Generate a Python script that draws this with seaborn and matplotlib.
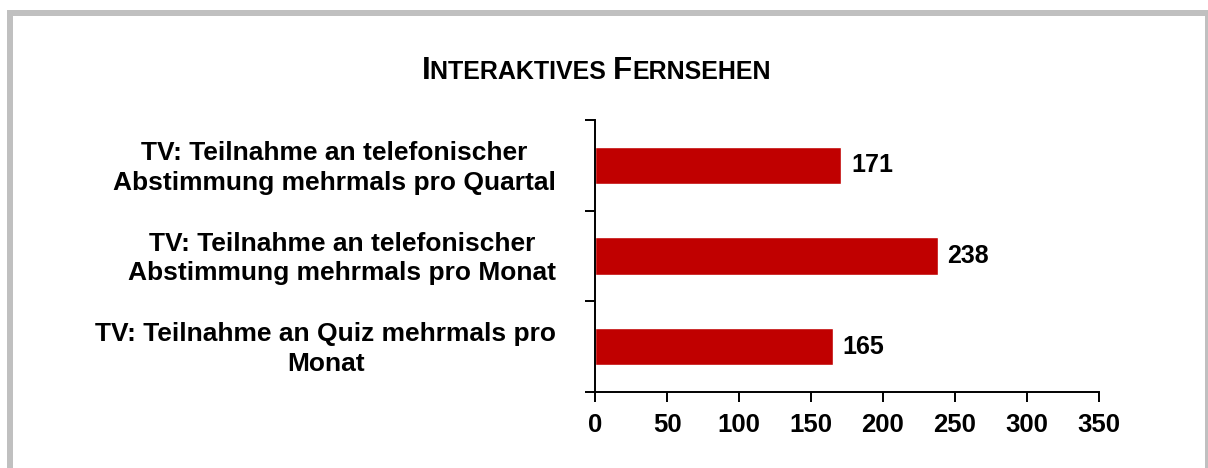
import matplotlib
matplotlib.use("Agg")
import matplotlib.pyplot as plt
from matplotlib.patches import Rectangle
from matplotlib.transforms import ScaledTranslation
import seaborn as sns

# chart data
categories = [
    "TV: Teilnahme an telefonischer\nAbstimmung mehrmals pro Quartal",
    "TV: Teilnahme an telefonischer\nAbstimmung mehrmals pro Monat",
    "TV: Teilnahme an Quiz mehrmals pro\nMonat",
]
values = [171, 238, 165]
x_ticks = [0, 50, 100, 150, 200, 250, 300, 350]
title_parts = [("I", True), ("NTERAKTIVES ", False), ("F", True), ("ERNSEHEN", False)]

sns.set_style("white")
plt.rcParams["font.family"] = ["Liberation Sans", "DejaVu Sans"]
plt.rcParams["font.weight"] = "bold"
plt.rcParams["text.color"] = "black"
plt.rcParams["xtick.color"] = "black"
plt.rcParams["ytick.color"] = "black"

W, H = 1208, 468
fig = plt.figure(figsize=(W / 100, H / 100), dpi=100)
fig.patch.set_facecolor("white")

# grey frame
grey = "#c0c0c0"
def px_rect(x0, y0, x1, y1):
    fig.add_artist(Rectangle((x0 / W, 1 - y1 / H), (x1 - x0) / W, (y1 - y0) / H,
                             transform=fig.transFigure, color=grey, lw=0))
px_rect(7, 10, 1208, 16)
px_rect(7, 10, 13, 468)
px_rect(1205, 10, 1208, 468)

ax = fig.add_axes([595 / W, 1 - 392 / H, (1099 - 595) / W, (392 - 120) / H])
sns.barplot(x=values, y=categories, color="#C00000", saturation=1, width=0.41, ax=ax)

ax.set_xlim(0, 350)
ax.set_ylim(2.5, -0.5)
ax.set_xticks(x_ticks)
ax.set_xticklabels([str(t) for t in x_ticks], fontsize=18.5, fontweight="bold")
ax.set_xlabel("")
ax.set_ylabel("")

for s in ["top", "right"]:
    ax.spines[s].set_visible(False)
for s in ["left", "bottom"]:
    ax.spines[s].set_linewidth(1.4)
    ax.spines[s].set_color("black")

ax.tick_params(axis="x", which="major", direction="out", length=7.5, width=1.4,
               color="black", labelcolor="black", bottom=True, pad=7.5)
ax.tick_params(axis="y", which="major", length=0, pad=28, labelcolor="black")
ax.set_yticks([-0.5, 0.5, 1.5, 2.5], minor=True)
ax.tick_params(axis="y", which="minor", direction="out", length=7.5, width=1.4,
               color="black", left=True)

shift_up = ScaledTranslation(0, 3 / 100, fig.dpi_scale_trans)
for lab in ax.get_yticklabels():
    lab.set_fontsize(19)
    lab.set_fontweight("bold")
    lab.set_multialignment("center")
    lab.set_linespacing(1.3)
    lab.set_transform(lab.get_transform() + shift_up)

ax.bar_label(ax.containers[0], fmt="%d", padding=7, fontsize=18, fontweight="bold",
             color="black")

# title in small caps
renderer = fig.canvas.get_renderer()
texts = []
widths = []
for txt, big in title_parts:
    t = fig.text(0, 1 - 79 / H, txt, fontsize=22.5 if big else 18,
                 fontweight="bold", ha="left", va="baseline", color="black")
    texts.append(t)
    widths.append(t.get_window_extent(renderer).width)
x = 596 - sum(widths) / 2
for t, w in zip(texts, widths):
    t.set_x(x / W)
    x += w

fig.savefig("out.png", dpi=100)
